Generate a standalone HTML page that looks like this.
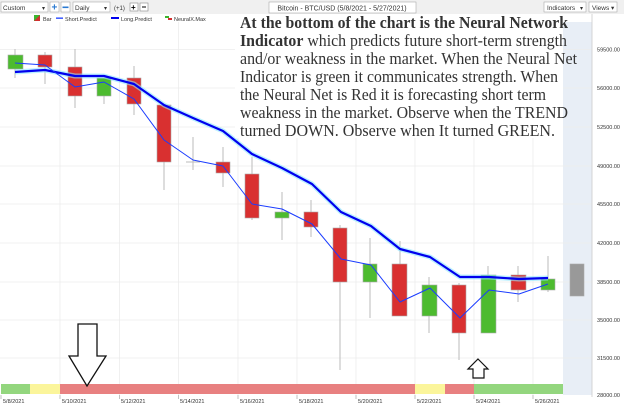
<!DOCTYPE html>
<html><head><meta charset="utf-8"><style>
html,body{margin:0;padding:0;background:#fff;}
svg{display:block;font-family:"Liberation Sans",sans-serif;}
</style></head><body>
<svg width="624" height="405" viewBox="0 0 624 405" xmlns="http://www.w3.org/2000/svg">
<rect width="624" height="405" fill="#fff"/>
<!-- toolbar -->
<rect x="0" y="0" width="624" height="14" fill="#f0f0f0"/>
<rect x="1" y="2" width="47" height="10" fill="#fff" stroke="#aaa" stroke-width="0.6"/>
<text x="3" y="10" font-size="6.5" fill="#333">Custom</text><text x="42" y="10" font-size="6" fill="#333">▾</text>
<rect x="50" y="2" width="9" height="10" fill="#fff" stroke="#aaa" stroke-width="0.6"/><text x="51.5" y="10.5" font-size="10" font-weight="bold" fill="#2a7ad2">+</text>
<rect x="61" y="2" width="9" height="10" fill="#fff" stroke="#aaa" stroke-width="0.6"/><rect x="62.5" y="6.5" width="6" height="1.6" fill="#2a7ad2"/>
<rect x="73" y="2" width="37" height="10" fill="#fff" stroke="#aaa" stroke-width="0.6"/><text x="75" y="10" font-size="6.5" fill="#333">Daily</text><text x="104" y="10" font-size="6" fill="#333">▾</text>
<text x="114" y="10" font-size="6" fill="#333">(+1)</text>
<rect x="130" y="3" width="8" height="8" fill="#fff" stroke="#888" stroke-width="0.6"/><text x="131" y="10" font-size="8" font-weight="bold">+</text>
<rect x="140" y="3" width="8" height="8" fill="#fff" stroke="#888" stroke-width="0.6"/><rect x="142" y="6.5" width="4" height="1" fill="#000"/>
<rect x="269" y="2" width="147" height="11" fill="#fff" stroke="#aaa" stroke-width="0.6"/>
<text x="342" y="10.5" font-size="7" fill="#333" text-anchor="middle">Bitcoin - BTC/USD (5/8/2021 - 5/27/2021)</text>
<rect x="544" y="2" width="42" height="10" fill="#fff" stroke="#aaa" stroke-width="0.6"/><text x="547" y="10" font-size="6.5" fill="#333">Indicators</text><text x="580" y="10" font-size="6" fill="#333">▾</text>
<rect x="589" y="2" width="28" height="10" fill="#fff" stroke="#aaa" stroke-width="0.6"/><text x="592" y="10" font-size="6.5" fill="#333">Views ▾</text>
<!-- legend -->
<rect x="34" y="15" width="6" height="6" fill="#d32f2f"/><polygon points="34,15 40,15 34,21" fill="#3cb52e"/>
<text x="43" y="21" font-size="5.5" fill="#333">Bar</text>
<rect x="56" y="17.5" width="7" height="1.3" fill="#1a3cff"/><text x="65" y="21" font-size="5.5" fill="#333">Short.Predict</text>
<rect x="111" y="17" width="8" height="2" fill="#0000ee"/><text x="121" y="21" font-size="5.5" fill="#333">Long.Predict</text>
<rect x="165" y="16" width="4" height="2" fill="#3cb52e"/><rect x="168" y="18" width="4" height="2" fill="#d32f2f"/><text x="174" y="21" font-size="5.5" fill="#333">NeuralX.Max</text>
<!-- shaded future -->
<rect x="563" y="22" width="29" height="373" fill="#e8eef6"/>
<!-- grid -->
<g stroke="#ececec" stroke-width="0.8">
<line x1="60" y1="22" x2="60" y2="395"/><line x1="119.5" y1="22" x2="119.5" y2="395"/><line x1="178.5" y1="22" x2="178.5" y2="395"/><line x1="238" y1="22" x2="238" y2="395"/><line x1="297" y1="22" x2="297" y2="395"/><line x1="356" y1="22" x2="356" y2="395"/><line x1="415" y1="22" x2="415" y2="395"/><line x1="474" y1="22" x2="474" y2="395"/><line x1="533" y1="22" x2="533" y2="395"/>
<line x1="0" y1="49.5" x2="592" y2="49.5"/><line x1="0" y1="88" x2="592" y2="88"/><line x1="0" y1="127" x2="592" y2="127"/><line x1="0" y1="166" x2="592" y2="166"/><line x1="0" y1="204" x2="592" y2="204"/><line x1="0" y1="243" x2="592" y2="243"/><line x1="0" y1="282" x2="592" y2="282"/><line x1="0" y1="320" x2="592" y2="320"/><line x1="0" y1="358" x2="592" y2="358"/>
</g>
<line x1="592" y1="14" x2="592" y2="397" stroke="#ccc" stroke-width="0.8"/>
<!-- y labels -->
<g font-size="5.5" fill="#333" text-anchor="end">
<text x="620" y="51.5">59500.00</text><text x="620" y="90">56000.00</text><text x="620" y="129">52500.00</text><text x="620" y="168">49000.00</text><text x="620" y="206">45500.00</text><text x="620" y="245">42000.00</text><text x="620" y="284">38500.00</text><text x="620" y="322">35000.00</text><text x="620" y="360">31500.00</text><text x="620" y="397">28000.00</text>
</g>
<!-- wicks -->
<g stroke="#bbb" stroke-width="1">
<line x1="15" y1="49" x2="15" y2="78"/><line x1="45" y1="52" x2="45" y2="84"/><line x1="75" y1="49" x2="75" y2="108"/><line x1="104" y1="78" x2="104" y2="104"/><line x1="134" y1="66" x2="134" y2="115"/><line x1="164" y1="105" x2="164" y2="190"/><line x1="193" y1="137" x2="193" y2="170"/><line x1="186" y1="162" x2="200" y2="162"/><line x1="223" y1="147" x2="223" y2="187"/><line x1="252" y1="157" x2="252" y2="220"/><line x1="282" y1="192" x2="282" y2="240"/><line x1="311" y1="200" x2="311" y2="237"/><line x1="340" y1="225" x2="340" y2="370"/><line x1="370" y1="238" x2="370" y2="318"/><line x1="400" y1="241" x2="400" y2="316"/><line x1="429" y1="277" x2="429" y2="333"/><line x1="459" y1="283" x2="459" y2="360"/><line x1="488" y1="266" x2="488" y2="333"/><line x1="518" y1="266" x2="518" y2="302"/><line x1="548" y1="256" x2="548" y2="292"/>
</g>
<!-- bodies -->
<g stroke="#aaa" stroke-width="0.6">
<rect x="8" y="55" width="15" height="14" fill="#4dbb2f"/>
<rect x="38" y="55" width="14" height="12" fill="#d93030"/>
<rect x="68" y="67" width="14" height="29" fill="#d93030"/>
<rect x="97" y="78" width="14" height="18" fill="#4dbb2f"/>
<rect x="127" y="78" width="14" height="26" fill="#d93030"/>
<rect x="157" y="105" width="14" height="57" fill="#d93030"/>
<rect x="216" y="162" width="14" height="11" fill="#d93030"/>
<rect x="245" y="174" width="14" height="44" fill="#d93030"/>
<rect x="275" y="212" width="14" height="6" fill="#4dbb2f"/>
<rect x="304" y="212" width="14" height="15" fill="#d93030"/>
<rect x="333" y="228" width="14" height="54" fill="#d93030"/>
<rect x="363" y="264" width="14" height="18" fill="#4dbb2f"/>
<rect x="392" y="264" width="15" height="52" fill="#d93030"/>
<rect x="422" y="285" width="15" height="31" fill="#4dbb2f"/>
<rect x="452" y="285" width="14" height="48" fill="#d93030"/>
<rect x="481" y="275" width="15" height="58" fill="#4dbb2f"/>
<rect x="511" y="275" width="15" height="15" fill="#d93030"/>
<rect x="541" y="279" width="14" height="11" fill="#4dbb2f"/>
<rect x="570" y="264" width="14" height="32" fill="#999"/>
</g>
<!-- long predict -->
<polyline fill="none" stroke="#8fe8ff" stroke-width="5" stroke-opacity="0.6" stroke-linejoin="round" points="15,72 45,70 75,76 104,76 134,84 164,105 193,118 223,131 252,154 282,168 312,184 341,212 371,226 400,249 430,257 460,277 489,277 519,279 548,278"/>
<polyline fill="none" stroke="#0000ee" stroke-width="2.2" stroke-linejoin="round" points="15,72 45,70 75,76 104,76 134,84 164,105 193,118 223,131 252,154 282,168 312,184 341,212 371,226 400,249 430,257 460,277 489,277 519,279 548,278"/>
<!-- short predict -->
<polyline fill="none" stroke="#1a3cff" stroke-width="1" stroke-linejoin="round" points="15,63 45,65 75,87 104,82 134,99 164,140 193,160 223,166 252,204 282,209 312,224 341,259 371,265 400,302 430,288 460,318 489,290 519,294 548,284"/>
<!-- text box -->
<rect x="235" y="14" width="328" height="124" fill="#fff"/>
<g font-family="Liberation Serif, serif" font-size="16.5" fill="#333">
<text x="240" y="28" font-weight="bold" textLength="328" lengthAdjust="spacingAndGlyphs">At the bottom of the chart is the Neural Network</text>
<text x="240" y="46" textLength="327" lengthAdjust="spacingAndGlyphs"><tspan font-weight="bold">Indicator</tspan> which predicts future short-term strength</text>
<text x="240" y="64" textLength="337" lengthAdjust="spacingAndGlyphs">and/or weakness in the market. When the Neural Net</text>
<text x="240" y="82" textLength="318" lengthAdjust="spacingAndGlyphs">Indicator is green it communicates strength. When</text>
<text x="240" y="100" textLength="306" lengthAdjust="spacingAndGlyphs">the Neural Net is Red it is forecasting short term</text>
<text x="240" y="118" textLength="328" lengthAdjust="spacingAndGlyphs">weakness in the market.  Observe when the TREND</text>
<text x="240" y="136" textLength="315" lengthAdjust="spacingAndGlyphs">turned DOWN.  Observe when It turned GREEN.</text>
</g>
<!-- indicator bar -->
<rect x="1" y="384" width="29" height="10" fill="#93d67e"/>
<rect x="30" y="384" width="30" height="10" fill="#fbf59b"/>
<rect x="60" y="384" width="355" height="10" fill="#e88080"/>
<rect x="415" y="384" width="30" height="10" fill="#fbf59b"/>
<rect x="445" y="384" width="29" height="10" fill="#e88080"/>
<rect x="474" y="384" width="89" height="10" fill="#93d67e"/>
<!-- arrows -->
<polygon points="78,324 97,324 97,356 106,356 87,386 69,356 78,356" fill="#fff" stroke="#111" stroke-width="1.3"/>
<polygon points="478,359 488,369 484,369 484,378 473,378 473,369 468,369" fill="#fff" stroke="#111" stroke-width="1.2"/>
<!-- x labels -->
<g font-size="5.5" fill="#333">
<text x="3" y="403">5/8/2021</text><text x="62" y="403">5/10/2021</text><text x="121" y="403">5/12/2021</text><text x="180" y="403">5/14/2021</text><text x="240" y="403">5/16/2021</text><text x="299" y="403">5/18/2021</text><text x="358" y="403">5/20/2021</text><text x="417" y="403">5/22/2021</text><text x="476" y="403">5/24/2021</text><text x="535" y="403">5/26/2021</text>
</g>
<g stroke="#999" stroke-width="0.6"><line x1="1" y1="395" x2="1" y2="399"/><line x1="60" y1="395" x2="60" y2="399"/><line x1="119.5" y1="395" x2="119.5" y2="399"/><line x1="178.5" y1="395" x2="178.5" y2="399"/><line x1="238" y1="395" x2="238" y2="399"/><line x1="297" y1="395" x2="297" y2="399"/><line x1="356" y1="395" x2="356" y2="399"/><line x1="415" y1="395" x2="415" y2="399"/><line x1="474" y1="395" x2="474" y2="399"/><line x1="533" y1="395" x2="533" y2="399"/></g>
</svg>
</body></html>
